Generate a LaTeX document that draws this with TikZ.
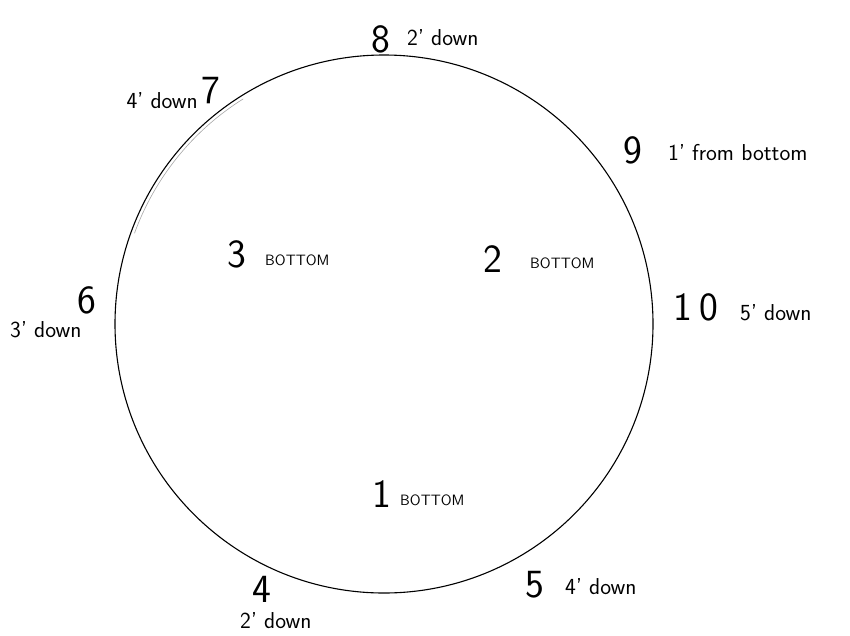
\documentclass[tikz,border=0pt]{standalone}
\usepackage{amsmath}
\usepackage{xcolor}
\usepackage{tikz}

\begin{document}
\begin{tikzpicture}[x={(1pt,0pt)},y={(0pt,-1pt)},
    num/.style={inner sep=0pt,anchor=base,font=\sffamily\fontsize{40}{40}\selectfont},
    note/.style={inner sep=0pt,font=\sffamily\fontsize{23}{23}\selectfont},
    tag/.style={inner sep=0pt,anchor=base west,font=\sffamily\fontsize{15}{15}\selectfont}]
  \useasboundingbox (0,0) rectangle (850,635);
  \node[draw,circle,line width=1.1pt,inner sep=0pt,minimum size=538pt] (ring) at (384,324) {};
  \draw[gray!70,line width=0.6pt] ([shift={(122:265.5pt)}]ring.center) arc[start angle=122,end angle=160,radius=265.5pt];
  \node[num] (p1) at (382,507) {1};
  \node[num] (p2) at (493,272) {2};
  \node[num] (p3) at (237,267) {3};
  \node[num] (p4) at (262,602) {4};
  \node[num] (p5) at (535,597) {5};
  \node[num] (p6) at (87,313) {6};
  \node[num] (p7) at (211,103) {7};
  \node[num] (p8) at (381,52) {8};
  \node[num] (p9) at (633,163) {9};
  \node[num] (p10) at (696,320) {1\,0};
  \node[tag] (b1) at (400,505) {BOTTOM};
  \node[tag] (b2) at (530,268) {BOTTOM};
  \node[tag] (b3) at (265,265) {BOTTOM};
  \node[note,anchor=base west] (d4) at (240,628) {2' down};
  \node[note,anchor=base west] (d5) at (565,594) {4' down};
  \node[note,anchor=base west] (d6) at (10,337) {3' down};
  \node[note,anchor=base east] (d7) at (198,108) {4' down};
  \node[note,anchor=base west] (d8) at (407,45) {2' down};
  \node[note,anchor=base west] (d9) at (668,160) {1' from bottom};
  \node[note,anchor=base west] (d10) at (740,320) {5' down};
\end{tikzpicture}
\end{document}
